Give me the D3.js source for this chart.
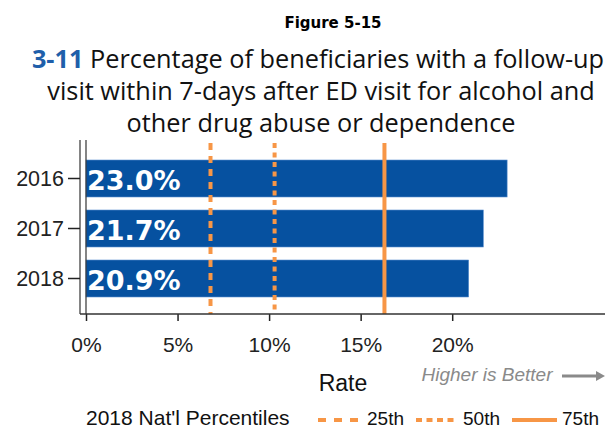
<!DOCTYPE html>
<html>
<head>
<meta charset="utf-8">
<script src="https://cdn.jsdelivr.net/npm/d3@7"></script>
<style>
  body { margin: 0; background: #fff; }
  svg { display: block; }
</style>
</head>
<body>
<div id="chart"></div>
<script>
var years = ['2016', '2017', '2018'];
var rates = [23.0, 21.7, 20.9];
var rateLabels = ['23.0%', '21.7%', '20.9%'];
var xTicks = [0, 5, 10, 15, 20];
var pctNames = ['25th', '50th', '75th'];
var pctValues = [6.8, 10.3, 16.3];

var width = 605, height = 430;
var blue = '#0651A0';
var orange = '#F79646';
var font = "'Liberation Sans', Arial, sans-serif";
var titleFont = "'Open Sans', 'Noto Sans', sans-serif";

var svg = d3.select('#chart').append('svg')
  .attr('width', width)
  .attr('height', height);

var x = d3.scaleLinear().domain([0, 28.4]).range([86, 606]);
var y = d3.scaleBand().domain(years).range([143, 314])
  .paddingInner(0.26).paddingOuter(0.34);

// titles
svg.append('text')
  .attr('x', 333).attr('y', 28)
  .attr('text-anchor', 'middle')
  .style('font-family', "'DejaVu Sans', Verdana, sans-serif")
  .style('font-weight', 'bold')
  .style('font-size', '15px')
  .text('Figure 5-15');

var titleLines = [
  'Percentage of beneficiaries with a follow-up',
  'visit within 7-days after ED visit for alcohol and',
  'other drug abuse or dependence'
];
var t1 = svg.append('text')
  .attr('x', 318).attr('y', 68)
  .attr('text-anchor', 'middle')
  .style('font-family', titleFont)
  .style('font-size', '25.3px')
  .attr('fill', '#111');
t1.append('tspan').attr('fill', '#1F5FAA').style('font-weight', 'bold').text('3-11');
t1.append('tspan').text(' ' + titleLines[0]);
titleLines.slice(1).forEach(function (l, i) {
  svg.append('text')
    .attr('x', 321).attr('y', 100 + i * 32)
    .attr('text-anchor', 'middle')
    .style('font-family', titleFont)
    .style('font-size', '25.3px')
    .attr('fill', '#111')
    .text(l);
});

// bars
var data = years.map(function (yr, i) { return {year: yr, rate: rates[i], label: rateLabels[i]}; });
svg.selectAll('rect.bar').data(data).enter()
  .append('rect')
  .attr('class', 'bar')
  .attr('x', x(0))
  .attr('y', d => y(d.year))
  .attr('width', d => x(d.rate) - x(0))
  .attr('height', y.bandwidth())
  .attr('fill', blue)
  .attr('stroke', '#5b8fcf')
  .attr('stroke-width', 0.6);

// percentile lines
var dashes = ['7,6', '5,4.5', null];
pctValues.forEach(function (v, i) {
  svg.append('line')
    .attr('x1', x(v)).attr('x2', x(v))
    .attr('y1', 143).attr('y2', 314)
    .attr('stroke', orange)
    .attr('stroke-width', 4)
    .attr('stroke-dasharray', dashes[i]);
});

// bar labels
svg.selectAll('text.lbl').data(data).enter()
  .append('text')
  .attr('class', 'lbl')
  .attr('x', x(0) + 1)
  .attr('y', d => y(d.year) + y.bandwidth() / 2 + 11)
  .attr('fill', '#fff')
  .style('font-family', "'DejaVu Sans', Verdana, sans-serif")
  .style('font-weight', 'bold')
  .style('font-size', '27px')
  .text(d => d.label);

// axes
var xAxis = svg.append('g')
  .attr('transform', 'translate(0,314)')
  .call(d3.axisBottom(x).tickValues(xTicks).tickFormat(d => d + '%').tickSize(7).tickSizeOuter(0));
xAxis.select('.domain').remove();
xAxis.selectAll('text').style('font-family', font).style('font-size', '21px').attr('fill', '#222')
  .attr('y', 38).attr('dy', 0);
xAxis.selectAll('line').attr('stroke', '#222').attr('stroke-width', 1.5);

svg.append('line').attr('x1', 80).attr('x2', 606).attr('y1', 314).attr('y2', 314)
  .attr('stroke', '#333').attr('stroke-width', 1.5);
svg.append('line').attr('x1', x(0)).attr('x2', x(0)).attr('y1', 140).attr('y2', 314)
  .attr('stroke', '#333').attr('stroke-width', 1.2);

var yAxis = svg.append('g')
  .attr('transform', 'translate(80,0)')
  .call(d3.axisLeft(y).tickSize(12).tickSizeOuter(0).tickPadding(4));
yAxis.select('.domain').attr('stroke', '#333').attr('stroke-width', 1.2)
  .attr('d', 'M0,140V314');
yAxis.selectAll('line').attr('stroke', '#222').attr('stroke-width', 1.5);
yAxis.selectAll('text').style('font-family', font).style('font-size', '21.5px').attr('fill', '#222')
  .attr('dy', '0.36em');

// axis title
svg.append('text')
  .attr('x', 343).attr('y', 391)
  .attr('text-anchor', 'middle')
  .style('font-family', font)
  .style('font-size', '23px')
  .attr('fill', '#111')
  .text('Rate');

svg.append('text')
  .attr('x', 487).attr('y', 381)
  .attr('text-anchor', 'middle')
  .style('font-family', font)
  .style('font-style', 'italic')
  .style('font-size', '19px')
  .attr('fill', '#8a8a8a')
  .text('Higher is Better');
svg.append('line')
  .attr('x1', 562).attr('x2', 598).attr('y1', 376).attr('y2', 376)
  .attr('stroke', '#8a8a8a').attr('stroke-width', 3);
svg.append('path')
  .attr('d', 'M596,371L605,376L596,381Z')
  .attr('fill', '#8a8a8a');

// legend
svg.append('text')
  .attr('x', 86).attr('y', 425)
  .style('font-family', font)
  .style('font-size', '21px')
  .attr('fill', '#111')
  .text("2018 Nat'l Percentiles");
var legX = [318, 416, 512];
var legW = [42, 39, 45];
var legDash = ['8,8', '6,4.5', null];
var legTextX = [367, 463, 562];
pctNames.forEach(function (n, i) {
  svg.append('line')
    .attr('x1', legX[i]).attr('x2', legX[i] + legW[i])
    .attr('y1', 420).attr('y2', 420)
    .attr('stroke', orange)
    .attr('stroke-width', 4)
    .attr('stroke-dasharray', legDash[i]);
  svg.append('text')
    .attr('x', legTextX[i]).attr('y', 425)
    .style('font-family', font)
    .style('font-size', '19px')
    .attr('fill', '#111')
    .text(n);
});
</script>
</body>
</html>
